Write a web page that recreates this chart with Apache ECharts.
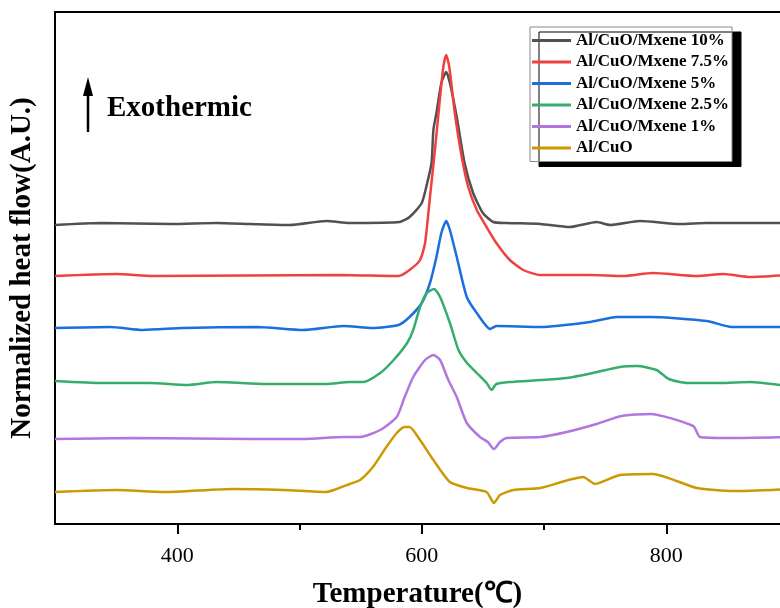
<!DOCTYPE html>
<html>
<head>
<meta charset="utf-8">
<script src="https://cdn.jsdelivr.net/npm/echarts@6/dist/echarts.min.js"></script>
<style>
  html, body { margin: 0; padding: 0; background: #fff; }
  #main { width: 780px; height: 608px; }
</style>
</head>
<body>
<div id="main"></div>
<script>
// 温度轴刻度
var majorTicks = [400, 600, 800];
var minorTicks = [500, 700];

// 各曲线数据 [温度, 归一化热流(已叠加偏移)]
var mxene10 = [[300,299],[337,301],[395,300],[432,301],[460,300],[492,299],[522,303],[541,301],[582,302],[590,307],[600,321],[605,344],[608,361],[609.5,394],[612,411],[616,441],[620,452],[623,441],[628.6,407],[635,361],[642,331],[650,311],[658.5,302],[669.5,301],[697,300],[721,297],[743,302],[754,299],[778.5,303],[811,300],[833,301],[900,301]];
var mxene75 = [[300,248],[350,250],[380,248],[533,249],[581,248],[590,254],[598.6,264],[602.7,281],[606.7,327],[611,377],[615,427],[617.6,457],[620,469],[622.5,457],[627,411],[632.7,367],[638,337],[645,314],[653,297],[661,281],[672,264],[683,254],[697,249],[737.6,249],[765,248],[789,251],[825,248],[846.6,250],[868.5,247],[900,249]];
var mxene5 = [[300,196],[345,197],[372,194],[405,196],[465,197],[503,194],[536,198],[560,196],[581,199],[590,207],[600,221],[606.7,241],[612,267],[616,291],[620,303],[623,294],[628.6,267],[636.8,227],[645,211],[656,195],[661,198],[697,197],[737.6,202],[759.5,207],[787,207],[833,203],[853.5,197],[900,197]];
var mxene25 = [[300,143],[339,141],[378,141],[408,139],[432,142],[473,140],[522,140],[541,142],[552,142],[566,151],[577,164],[588,181],[593,194],[598.6,217],[604,231],[610,235],[615,227],[623,201],[630,174],[637,161],[645,151],[653,141],[657,134],[661,140],[672,142],[697,144],[718.6,146],[740,151],[762,157],[776,158],[792,154],[802,145],[817,141],[844,141],[868.5,142],[900,138]];
var mxene1 = [[300,85],[364,86],[459.5,85],[503,85],[536,87],[549.5,87],[566,94],[579.5,107],[586,127],[593,147],[602.7,164],[609.5,169],[615,164],[621.7,144],[628.6,127],[636.8,101],[647.6,87],[654,82],[659,75],[664,82],[669.5,86],[697,87],[718.6,92],[743,100],[763.5,108],[787,110],[822,98],[827.6,87],[852,86],[900,87]];
var alcuo = [[300,32],[350,34],[389,32],[446,35],[487,34],[522,32],[528,34],[541,40],[549.5,44],[560,57],[571,77],[579.5,91],[586,97],[590,97],[598.6,84],[609.5,64],[623,42],[637,36],[653,32],[659,21],[664,29],[675,34],[697,36],[732,47],[741.7,40],[762,49],[789,50],[825,36],[855,33],[900,35]];

var names = ['Al/CuO/Mxene 10%','Al/CuO/Mxene 7.5%','Al/CuO/Mxene 5%','Al/CuO/Mxene 2.5%','Al/CuO/Mxene 1%','Al/CuO'];
var colors = ['#515151','#F14040','#1A6FDF','#37AD6B','#B177DE','#CC9900'];
var datas = [mxene10, mxene75, mxene5, mxene25, mxene1, alcuo];

var serif = '"Liberation Serif", "Times New Roman", serif';

var seriesList = [];
for (var i = 0; i < names.length; i++) {
  seriesList.push({
    name: names[i],
    type: 'line',
    data: datas[i],
    symbol: 'none',
    smooth: 0.2,
    color: colors[i],
    lineStyle: { width: 2.5, color: colors[i] }
  });
}

var myChart = echarts.init(document.getElementById('main'));

var option = {
  animation: false,
  backgroundColor: '#fff',
  grid: { left: 55, top: 12, right: 0, bottom: 84, outerBoundsMode: 'none' },
  legend: {
    orient: 'vertical',
    left: 530, top: 27,
    padding: [5, 3, 5, 2],
    icon: 'rect',
    itemWidth: 39, itemHeight: 3, itemGap: 4.5,
    backgroundColor: '#fff',
    borderColor: '#888', borderWidth: 1, borderRadius: 0,
    shadowColor: '#000', shadowBlur: 0, shadowOffsetX: 9, shadowOffsetY: 5,
    textStyle: { fontFamily: serif, fontWeight: 'bold', fontSize: 17, color: '#000' },
    data: names
  },
  xAxis: [{
    type: 'value', min: 300, max: 893, position: 'bottom',
    name: 'Temperature(℃)', nameLocation: 'middle', nameGap: 56,
    nameTextStyle: { fontFamily: serif, fontWeight: 'bold', fontSize: 29, color: '#000' },
    axisLine: { show: true, lineStyle: { color: '#000', width: 2 } },
    axisTick: { show: true, length: 10, customValues: majorTicks, lineStyle: { color: '#000', width: 2 } },
    axisLabel: { customValues: majorTicks, fontFamily: serif, fontSize: 22, color: '#000', margin: 21 },
    splitLine: { show: false }
  }, {
    type: 'value', min: 300, max: 893, position: 'bottom',
    axisLine: { show: false },
    axisTick: { show: true, length: 6, customValues: minorTicks, lineStyle: { color: '#000', width: 2 } },
    axisLabel: { show: false },
    splitLine: { show: false }
  }, {
    type: 'value', min: 300, max: 893, position: 'top',
    axisLine: { show: true, lineStyle: { color: '#000', width: 2 } },
    axisTick: { show: false },
    axisLabel: { show: false },
    splitLine: { show: false }
  }],
  yAxis: {
    type: 'value', min: 0, max: 512,
    name: 'Normalized heat flow(A.U.)', nameLocation: 'middle', nameGap: 18,
    nameTextStyle: { fontFamily: serif, fontWeight: 'bold', fontSize: 29, color: '#000' },
    axisLine: { show: true, lineStyle: { color: '#000', width: 2 } },
    axisTick: { show: false },
    axisLabel: { show: false },
    splitLine: { show: false }
  },
  graphic: [
    {
      type: 'text', left: 107, top: 94,
      style: { text: 'Exothermic', fontFamily: serif, fontWeight: 'bold', fontSize: 29, fill: '#000' }
    },
    {
      type: 'line', shape: { x1: 88, y1: 93, x2: 88, y2: 132 },
      style: { stroke: '#000', lineWidth: 2.5 }
    },
    {
      type: 'polygon', shape: { points: [[88, 77], [83, 96], [93, 96]] },
      style: { fill: '#000' }
    }
  ],
  series: seriesList
};

myChart.setOption(option);
</script>
</body>
</html>
